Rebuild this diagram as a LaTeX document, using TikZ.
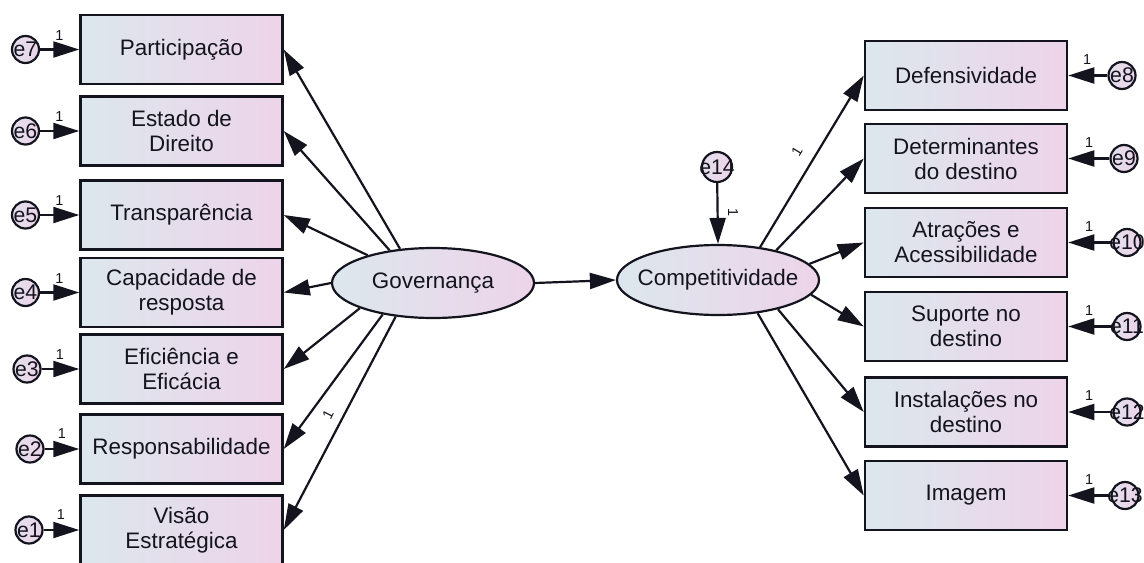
\documentclass[tikz,border=0pt]{standalone}
\usepackage{fontspec}
\setmainfont{Liberation Sans}
\usetikzlibrary{arrows.meta,shapes.geometric}
\definecolor{shL}{RGB}{220,231,237}
\definecolor{shR}{RGB}{237,212,233}
\definecolor{ink}{RGB}{20,20,30}
\begin{document}
\begin{tikzpicture}[x=0.5pt,y=-0.5pt,
  ind/.style={rectangle, draw=ink, line width=1.25pt, left color=shL, right color=shR,
    minimum width=101pt, minimum height=34.5pt, inner sep=1pt, align=center,
    font=\fontsize{11.2}{12.5}\selectfont, text=ink},
  lat/.style={ellipse, draw=ink, line width=1.1pt, left color=shL, right color=shR,
    minimum width=101pt, minimum height=35pt, inner sep=0pt,
    label={[font=\fontsize{11.2}{12.5}\selectfont, text=ink]center:#1}},
  err/.style={circle, draw=ink, line width=1.1pt, left color=shL!60!shR, right color=shR,
    minimum size=13.5pt, inner sep=0pt,
    label={[font=\fontsize{10.6}{12}\selectfont, text=ink]center:#1}},
  one/.style={font=\fontsize{7.2}{8}\selectfont, text=ink, inner sep=0pt},
  conn/.style={draw=ink, line width=1.1pt, -{Triangle[length=13pt,width=8pt]}}
]
\useasboundingbox (0,0) rectangle (1144,562);
\clip (0,0) rectangle (1144,562);

% left indicators
\node[ind] (b7) at (181.5,49.5) {Participação};
\node[ind] (b6) at (181.5,131) {Estado de\\Direito};
\node[ind] (b5) at (181.5,215) {Transparência};
\node[ind] (b4) at (181.5,292.5) {Capacidade de\\resposta};
\node[ind] (b3) at (181.5,369) {Eficiência e\\Eficácia};
\node[ind] (b2) at (181.5,449) {Responsabilidade};
\node[ind] (b1) at (181.5,530) {Visão\\Estratégica};

% right indicators
\node[ind] (b8) at (966,75.5) {Defensividade};
\node[ind] (b9) at (966,158.5) {Determinantes\\do destino};
\node[ind] (b10) at (966,242.5) {Atrações e\\Acessibilidade};
\node[ind] (b11) at (966,326.5) {Suporte no\\destino};
\node[ind] (b12) at (966,412) {Instalações no\\destino};
\node[ind] (b13) at (966,495.5) {Imagem};

% latent variables
\node[lat=Governança] (gov) at (433,283) {};
\node[lat=Competitividade] (comp) at (718,280) {};

% error terms
\node[err=e7] (e7) at (25.5,49.5) {};
\node[err=e6] (e6) at (25.5,131) {};
\node[err=e5] (e5) at (25.5,215) {};
\node[err=e4] (e4) at (25.5,292.5) {};
\node[err=e3] (e3) at (27,369) {};
\node[err=e2] (e2) at (30,449) {};
\node[err=e1] (e1) at (29,530) {};
\node[err=e8] (e8) at (1122,75.5) {};
\node[err=e9] (e9) at (1124,158.5) {};
\node[err=e10] (e10) at (1127,242.5) {};
\node[err=e11] (e11) at (1127,326.5) {};
\node[err=e12] (e12) at (1127,412) {};
\node[err=e13] (e13) at (1125,495.5) {};
\node[err=e14, minimum size=15pt] (e14) at (717,167) {};

% error arrows
\foreach \i in {1,...,7} \draw[conn] (e\i) -- (b\i.west);
\foreach \i in {8,...,13} \draw[conn] (e\i) -- (b\i.east);
\draw[conn] (e14) -- (comp.north);

% loadings
\draw[conn] (gov.134) -- (b7.east);
\draw[conn] (gov.143.5) -- (b6.east);
\draw[conn] (gov.157.7) -- (b5.east);
\draw[conn] (gov.180) -- (b4.east);
\draw[conn] (gov.199) -- (b3.east);
\draw[conn] (gov.212) -- (b2.east);
\draw[conn] (gov.222.6) -- (b1.east);
\draw[conn] (gov.east) -- (comp.west);
\draw[conn] (comp.38) -- (b8.west);
\draw[conn] (comp.27.7) -- (b9.west);
\draw[conn] (comp.10) -- (b10.west);
\draw[conn] (comp.-9) -- (b11.west);
\draw[conn] (comp.-26) -- (b12.west);
\draw[conn] (comp.-40) -- (b13.west);

% fixed-parameter labels
\node[one] (l7) at (59.5,35.5) {1};
\node[one] (l6) at (59.5,117) {1};
\node[one] (l5) at (59.5,201) {1};
\node[one] (l4) at (59.5,278.5) {1};
\node[one] (l3) at (60,355) {1};
\node[one] (l2) at (62,434) {1};
\node[one] (l1) at (61,515) {1};
\node[one] (l8) at (1087,59.5) {1};
\node[one] (l9) at (1089,142.5) {1};
\node[one] (l10) at (1089,226.5) {1};
\node[one] (l11) at (1089,310.5) {1};
\node[one] (l12) at (1089,396) {1};
\node[one] (l13) at (1089,479.5) {1};
\node[one, rotate=-90] (l14) at (733,213) {1};
\node[one, rotate=59] (lc) at (797,152) {1};
\node[one, rotate=63] (lg) at (328,415) {1};
\end{tikzpicture}
\end{document}
